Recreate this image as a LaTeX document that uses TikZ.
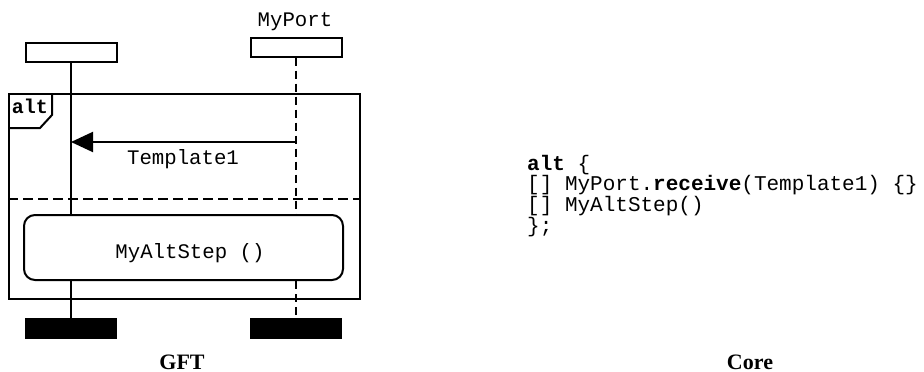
\documentclass[tikz,border=0pt]{standalone}
\usepackage{fontspec}
\setmainfont{Liberation Serif}
\setmonofont{Liberation Mono}
\usetikzlibrary{arrows.meta}
\begin{document}
\begin{tikzpicture}[x=1pt,y=-1pt,
  headbox/.style={draw,line width=2pt,minimum width=91pt,minimum height=19pt,inner sep=0pt},
  endbox/.style={fill=black,draw=black,line width=0pt,minimum width=91pt,minimum height=20pt,inner sep=0pt},
  lw/.style={line width=2pt},
  dl/.style={line width=2pt,dash pattern=on 8pt off 5pt},
  mono/.style={font=\fontsize{20.7}{18}\selectfont\ttfamily,inner sep=0pt},
  codefont/.style={font=\fontsize{21}{18}\selectfont\ttfamily,inner sep=0pt},
  caption/.style={font=\fontsize{22}{24}\selectfont\bfseries,inner sep=0pt},
]
\useasboundingbox (0,0) rectangle (924,372);
% instance heads and ends
\node[headbox] (lhead) at (71,52) {};
\node[headbox] (rhead) at (296,47) {};
\node[mono,anchor=base] (porttxt) at (295,26) {MyPort};
\node[endbox] (lend) at (71,328) {};
\node[endbox] (rend) at (296,328) {};
% alt frame
\node[draw,lw,minimum width=351pt,minimum height=205pt,inner sep=0pt,anchor=north west] (frame) at (8,93) {};
\draw[lw] (8,128) -- (40,128) -- (52,115) -- (52,93);
\node[mono,font=\fontsize{20}{18}\selectfont\ttfamily\bfseries,anchor=base] (alttxt) at (30,113) {alt};
% separator
\coordinate (sepL) at (8,199);
\coordinate (sepR) at (359,199);
\draw[line width=2pt,dash pattern=on 10pt off 5pt] (sepL) -- (sepR);
% altstep box
\node[draw,lw,rounded corners=11pt,minimum width=319pt,minimum height=65pt,inner sep=0pt] (step) at (183.5,247.5) {};
\node[mono,anchor=base] (steptxt) at (190,258) {MyAltStep ()};
% lifelines
\draw[lw] (lhead.south) -- (lhead.south |- step.north);
\draw[lw] (lhead.south |- step.south) -- (lend.north);
\draw[dl] (rhead.south) -- (rhead.south |- step.north);
\draw[dl] (rhead.south |- step.south) -- (rend.north);
% message
\coordinate (msgR) at (296,142);
\coordinate (msgL) at (71,142);
\draw[lw,-{Triangle[length=22pt,width=20pt]}] (msgR) -- (msgL);
\node[mono,anchor=base] (msgtxt) at (183,164) {Template1};
% core code
\node[codefont,anchor=base west,align=left] (code) at (527,232)
  {\textbf{alt} \{\\{[]} MyPort.\textbf{receive}(Template1) \{\}\\{[]} MyAltStep()\\\};};
% captions
\node[caption,anchor=base] (gft) at (182,369) {GFT};
\node[caption,anchor=base] (core) at (750,369) {Core};
\end{tikzpicture}
\end{document}
